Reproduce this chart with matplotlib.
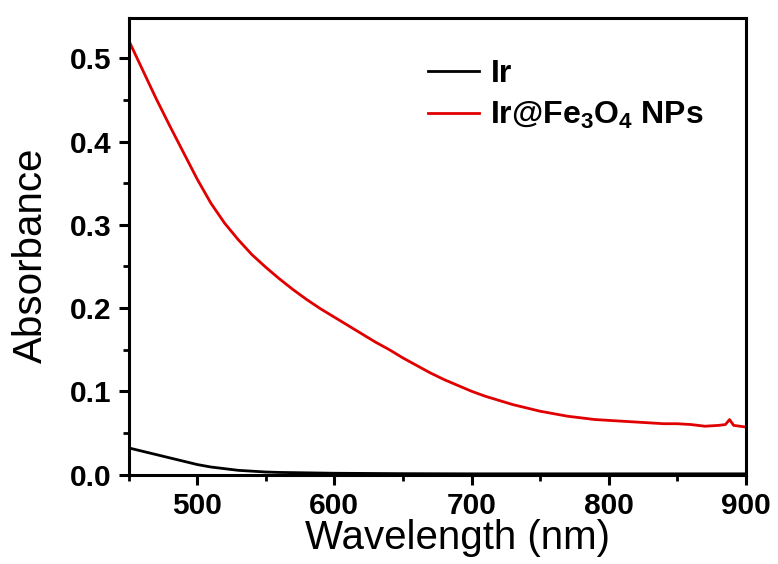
import matplotlib
matplotlib.use("Agg")
import matplotlib.pyplot as plt
from matplotlib.ticker import MultipleLocator, FormatStrFormatter

plt.rcParams['font.family'] = ['Liberation Sans', 'DejaVu Sans']
plt.rcParams['mathtext.fontset'] = 'custom'
plt.rcParams['mathtext.rm'] = 'Liberation Sans:bold'
plt.rcParams['mathtext.bf'] = 'Liberation Sans:bold'
plt.rcParams['mathtext.default'] = 'regular'

# UV-vis absorbance spectra
wavelength_fe = [450, 460, 470, 480, 490, 500, 510, 520, 530, 540, 550, 560, 570,
                 580, 590, 600, 610, 620, 630, 640, 650, 660, 670, 680, 690, 700,
                 710, 720, 730, 740, 750, 760, 770, 780, 790, 800, 810, 820, 830,
                 840, 850, 860, 870, 880, 885, 888, 891, 900]
absorb_fe = [0.522, 0.487, 0.452, 0.419, 0.387, 0.355, 0.326, 0.302, 0.282, 0.264,
             0.249, 0.235, 0.222, 0.210, 0.199, 0.189, 0.179, 0.169, 0.159, 0.150,
             0.140, 0.131, 0.122, 0.114, 0.107, 0.100, 0.094, 0.089, 0.084, 0.080,
             0.076, 0.073, 0.070, 0.068, 0.066, 0.065, 0.064, 0.063, 0.062, 0.061,
             0.061, 0.060, 0.058, 0.059, 0.060, 0.066, 0.059, 0.057]

wavelength_ir = [450, 460, 470, 480, 490, 500, 510, 520, 530, 540, 550, 560, 580,
                 600, 650, 700, 750, 800, 850, 900]
absorb_ir = [0.032, 0.028, 0.024, 0.020, 0.016, 0.012, 0.009, 0.007, 0.005, 0.004,
             0.003, 0.0025, 0.002, 0.0015, 0.001, 0.0008, 0.0008, 0.0008, 0.0008, 0.0008]

labels = ['Ir', r'Ir@Fe$_3$O$_4$ NPs']

fig = plt.figure(figsize=(7.78, 5.64), dpi=100)
ax = fig.add_axes([128.5 / 778, 1 - 474.5 / 564, (746 - 128.5) / 778, (474.5 - 18.3) / 564])

ax.plot(wavelength_ir, absorb_ir, color='black', lw=2.0, label=labels[0])
ax.plot(wavelength_fe, absorb_fe, color='#e00000', lw=2.0, label=labels[1])

ax.set_xlim(450, 900)
ax.set_ylim(0, 0.548)
ax.xaxis.set_major_locator(MultipleLocator(100))
ax.xaxis.set_minor_locator(MultipleLocator(50))
ax.yaxis.set_major_locator(MultipleLocator(0.1))
ax.yaxis.set_minor_locator(MultipleLocator(0.05))
ax.yaxis.set_major_formatter(FormatStrFormatter('%.1f'))

for s in ax.spines.values():
    s.set_linewidth(2.2)
ax.tick_params(which='major', direction='out', length=7.5, width=2.2,
               labelsize=21.5)
ax.tick_params(which='minor', direction='out', length=4.5, width=2.0)
ax.tick_params(axis='y', pad=5)
ax.tick_params(axis='x', pad=5)
for lab in ax.get_xticklabels() + ax.get_yticklabels():
    lab.set_fontweight('bold')

ax.set_xlabel('Wavelength (nm)', fontsize=29)
ax.set_ylabel('Absorbance', fontsize=29)
ax.xaxis.set_label_coords(0.533, -0.097)
ax.yaxis.set_label_coords(-0.128, 0.48)

leg = ax.legend(loc='upper left', bbox_to_anchor=(409 / 778, 1 - 40 / 564),
                bbox_transform=fig.transFigure, frameon=False,
                prop={'weight': 'bold', 'size': 23}, handlelength=1.6,
                handletextpad=0.35, labelspacing=0.34, borderpad=0.1)

fig.savefig('out.png', dpi=100)
